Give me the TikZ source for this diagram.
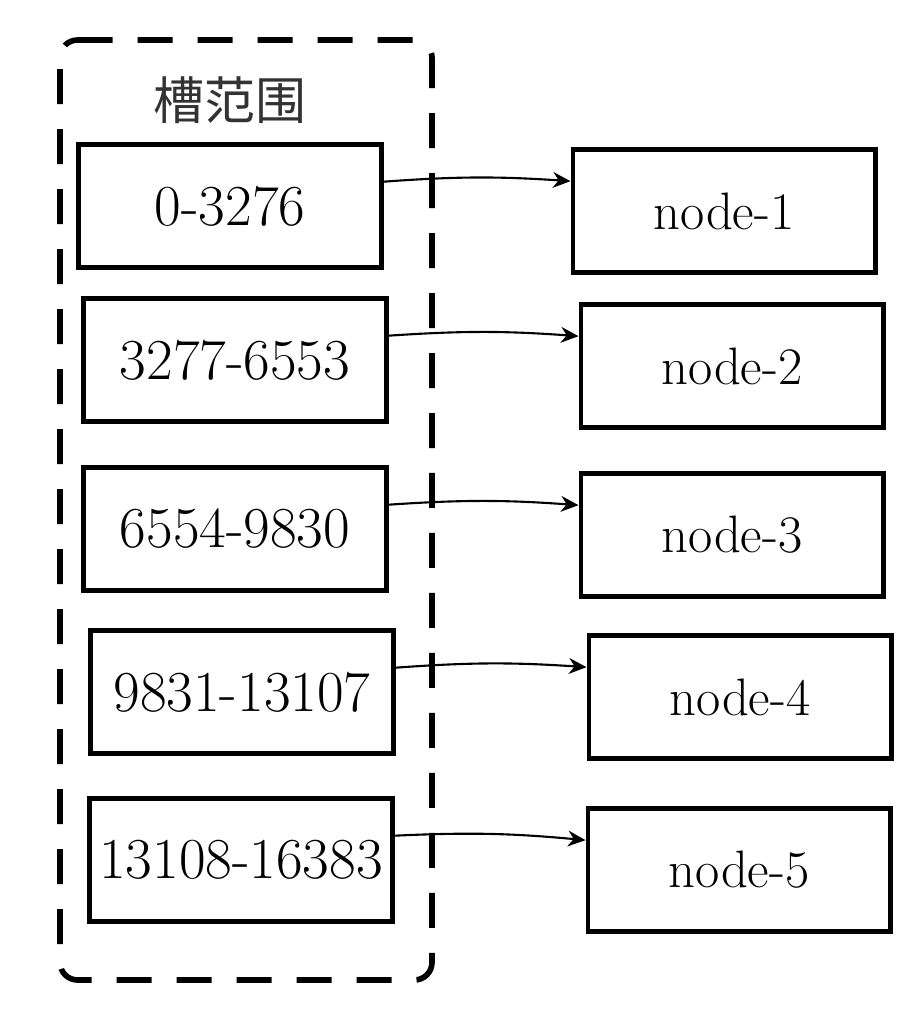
\documentclass[tikz,border=0pt]{standalone}
\usepackage{fontspec}
\newfontfamily\cjk{Noto Sans CJK SC}
\usetikzlibrary{arrows.meta}

\tikzset{
	slotbox/.style={draw,line width=2.6pt,line cap=round,fill=white,
		minimum width=6.05cm,minimum height=2.45cm,inner sep=0pt,
		font=\fontsize{33}{38}\selectfont},
	hostbox/.style={slotbox,font=\fontsize{30}{34}\selectfont},
	link/.style={line width=1.2pt,-{Stealth[length=10pt,width=9pt]}}
}

\begin{document}
\begin{tikzpicture}[x=0.02cm,y=-0.02cm]
	\useasboundingbox (0,0) rectangle (922,1010);

	% dashed frame round the slots
	\draw[line width=3.2pt,dash pattern=on 0.7cm off 0.5cm,rounded corners=10pt]
		(60,40) -- (432,40) -- (432,980) -- (60,980) -- cycle;
	\node[text=black!80] (title) at (230,100) {\cjk\fontsize{29}{33}\selectfont 槽范围};

	% slot ranges
	\node[slotbox] (s1) at (230,206) {0-3276};
	\node[slotbox] (s2) at (235,360) {3277-6553};
	\node[slotbox] (s3) at (235,529) {6554-9830};
	\node[slotbox] (s4) at (242,692) {9831-13107};
	\node[slotbox] (s5) at (241,860) {13108-16383};

	% nodes
	\node[hostbox] (n1) at (724,211) {node-1};
	\node[hostbox] (n2) at (732,366) {node-2};
	\node[hostbox] (n3) at (732,535) {node-3};
	\node[hostbox] (n4) at (740,697) {node-4};
	\node[hostbox] (n5) at (739,870) {node-5};

	\foreach \i in {1,...,5}
		\draw[link] (s\i.9) to[bend left=4] (n\i.169);
\end{tikzpicture}
\end{document}
